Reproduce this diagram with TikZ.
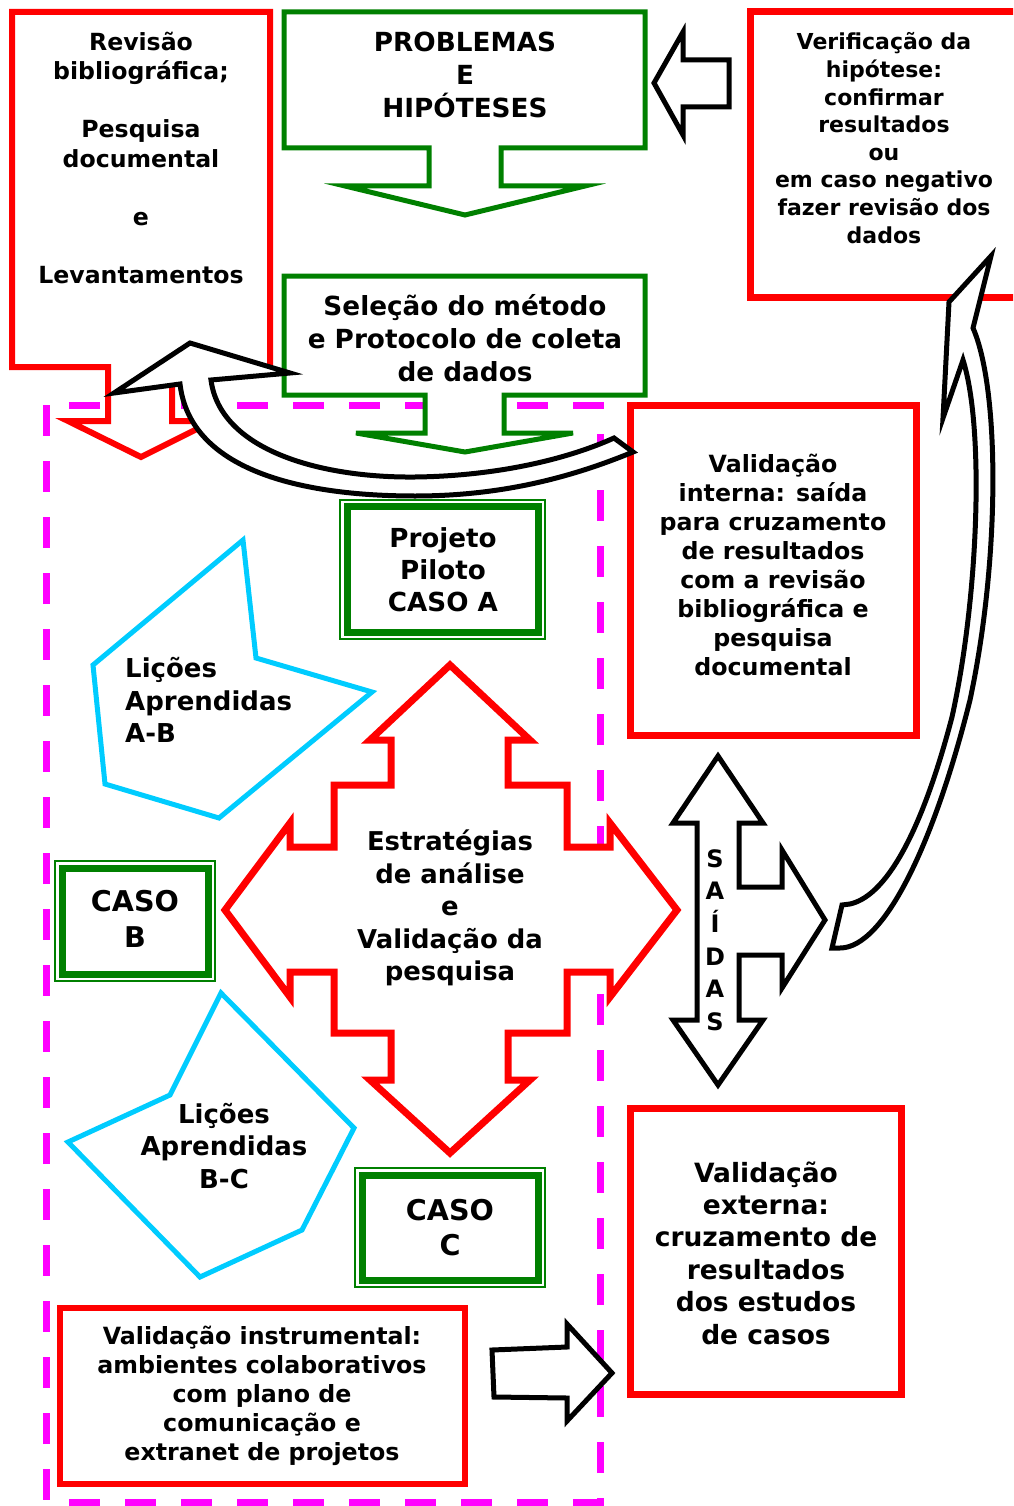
\documentclass[tikz,border=0pt]{standalone}
\usepackage{fontspec}
\setmainfont{DejaVu Sans}
\definecolor{boxred}{RGB}{255,0,0}
\definecolor{boxgreen}{RGB}{0,128,0}
\definecolor{lessoncyan}{RGB}{0,204,255}
\definecolor{framemag}{RGB}{255,0,255}
\begin{document}
\begin{tikzpicture}[x=1pt,y=-1pt,
  redline/.style={draw=boxred, line width=7pt, line join=miter, fill=white},
  greenline/.style={draw=boxgreen, line width=5pt, line join=miter, fill=white},
  blockarrow/.style={draw=black, line width=5pt, line join=miter, fill=white},
  openarrow/.style={draw=black, line width=5pt, line join=miter},
  lesson/.style={draw=lessoncyan, line width=5pt, line join=miter},
  phaseframe/.style={draw=framemag, line width=7pt, dash pattern=on 31pt off 25pt},
  thinframe/.style={draw=boxgreen, line width=1.5pt},
  thickframe/.style={draw=boxgreen, line width=7pt},
  txt/.style={align=center, inner sep=0pt},
  fs/.style n args={2}{font=\fontsize{#1}{#2}\selectfont\bfseries},
]
\useasboundingbox (0,0) rectangle (1013,1506);
\clip (0,0) rectangle (1013,1506);

% dashed frame around the case studies
\draw[phaseframe] (46,405) rectangle (600,1502);

% literature review box with its downward arrow
\draw[redline, line width=6pt] (12,12) -- (270,12) -- (270,367) -- (172,367) -- (172,421)
  -- (213,421) -- (141,457) -- (68,421) -- (108,421) -- (108,367) -- (12,367) -- cycle;

% problems and hypotheses
\draw[greenline] (284,12) -- (645,12) -- (645,148) -- (501,148) -- (501,186) -- (585,186)
  -- (465,215) -- (345,186) -- (429,186) -- (429,148) -- (284,148) -- cycle;

% method selection and data collection protocol
\draw[greenline] (284,276) -- (645,276) -- (645,395) -- (504,395) -- (504,433) -- (573,433)
  -- (465,452) -- (356,433) -- (425,433) -- (425,395) -- (284,395) -- cycle;

% hypothesis verification (runs past the right edge)
\draw[redline] (750,12) rectangle (1040,297);

% arrow back to the problems
\draw[blockarrow] (654,83) -- (683,32) -- (683,60) -- (729,60) -- (729,107) -- (683,107)
  -- (683,135) -- cycle;

% internal validation
\draw[redline] (630,405) rectangle (916,735);

% external validation
\draw[redline] (630,1108) rectangle (901,1394);

% instrumental validation
\draw[redline, line width=6pt] (60,1308) rectangle (465,1484);

% analysis strategies: four-way arrow
\draw[redline] (450,665) -- (530,740) -- (508,740) -- (508,785) -- (567,785) -- (567,847)
  -- (610,847) -- (610,823) -- (677,910) -- (610,997) -- (610,972) -- (567,972)
  -- (567,1033) -- (508,1033) -- (508,1080) -- (530,1080) -- (450,1153) -- (370,1080)
  -- (391,1080) -- (391,1033) -- (334,1033) -- (334,972) -- (290,972) -- (290,997)
  -- (225,910) -- (290,823) -- (290,847) -- (334,847) -- (334,785) -- (391,785)
  -- (391,740) -- (370,740) -- cycle;

% case boxes with double green frames
\draw[thinframe] (340,500) rectangle (545,639);
\draw[thickframe] (347.5,506.5) rectangle (538,632);
\draw[thinframe] (55,861) rectangle (215,981);
\draw[thickframe] (62,868) rectangle (208,974);
\draw[thinframe] (355,1168) rectangle (545,1287);
\draw[thickframe] (362,1175) rectangle (538,1280);

% lessons learned
\draw[lesson] (243,540) -- (256,658) -- (372,692) -- (219,818) -- (105,784) -- (93,665) -- cycle;
\draw[lesson] (221,993) -- (354,1128) -- (302,1230) -- (200,1277) -- (68,1142) -- (170,1095) -- cycle;

% curved arrow from internal validation back to the literature review
\draw[blockarrow] (114,393) -- (190,343) -- (290,373) -- (211,380)
  .. controls (220,450) and (320,478) .. (415,477)
  .. controls (500,476) and (570,458) .. (614,438)
  -- (633,452)
  .. controls (570,478) and (500,496) .. (415,496)
  .. controls (300,496) and (190,470) .. (180,384) -- cycle;

% curved arrow from the outputs up to the verification
\draw[blockarrow] (991,256) -- (973,328)
  .. controls (1000,390) and (1000,560) .. (970,700)
  .. controls (935,840) and (885,948) .. (840,948)
  -- (832,948) -- (842,905) -- (850,904)
  .. controls (890,895) and (925,820) .. (952,717)
  .. controls (978,600) and (985,430) .. (963,360)
  -- (943,418) -- (949,302) -- cycle;

% outputs arrow
\draw[blockarrow] (718,756) -- (763,823) -- (739,823) -- (739,887) -- (782,887) -- (782,850)
  -- (825,920) -- (782,988) -- (782,955) -- (739,955) -- (739,1020) -- (763,1020)
  -- (718,1085) -- (673,1020) -- (697,1020) -- (697,823) -- (673,823) -- cycle;

% arrow towards the external validation
\draw[openarrow] (492,1350) -- (567,1347) -- (567,1324) -- (612,1373) -- (567,1421)
  -- (567,1398) -- (494,1397) -- cycle;

% texts
\node[txt, fs={23.6}{29.1}] (revisaoText) at (141,158)
  {Revisão\\bibliográfica;\\[29.1pt]Pesquisa\\documental\\[29.1pt]e\\[29.1pt]Levantamentos};
\node[txt, fs={26.3}{33}] (problemasText) at (465,75) {PROBLEMAS\\E\\HIPÓTESES};
\node[txt, fs={22}{27.6}] (verificacaoText) at (884,138)
  {Verificação da\\hipótese:\\confirmar\\resultados\\ou\\em caso negativo\\fazer revisão dos\\dados};
\node[txt, fs={26.3}{33}] (selecaoText) at (465,338)
  {Seleção do método\\e Protocolo de coleta\\de dados};
\node[txt, fs={26.2}{32}] (pilotoText) at (443,570) {Projeto\\Piloto\\CASO A};
\node[txt, fs={26}{32.5}, anchor=west, align=left] (licoesABText) at (125,700)
  {Lições\\Aprendidas\\A-B};
\node[txt, fs={28.6}{36}] (casoBText) at (135,919) {CASO\\B};
\node[txt, fs={25.9}{32.5}] (estrategiasText) at (450,908)
  {Estratégias\\de análise\\e\\Validação da\\pesquisa};
\node[txt, fs={26}{32.5}] (licoesBCText) at (224,1146) {Lições\\Aprendidas\\B-C};
\node[txt, fs={28.6}{35}] (casoCText) at (450,1228) {CASO\\C};
\node[txt, fs={23.7}{29}] (instrumentalText) at (262,1396)
  {Validação instrumental:\\ambientes colaborativos\\com plano de\\comunicação e\\extranet de projetos};
\node[txt, fs={23.7}{29.1}] (internaText) at (773,565)
  {Validação\\interna: saída\\para cruzamento\\de resultados\\com a revisão\\bibliográfica e\\pesquisa\\documental};
\node[txt, fs={26.5}{32.4}] (externaText) at (766,1253)
  {Validação\\externa:\\cruzamento de\\resultados\\dos estudos\\de casos};
\node[txt, fs={24}{32.6}] (saidasText) at (715,940) {S\\A\\Í\\D\\A\\S};
\end{tikzpicture}
\end{document}
